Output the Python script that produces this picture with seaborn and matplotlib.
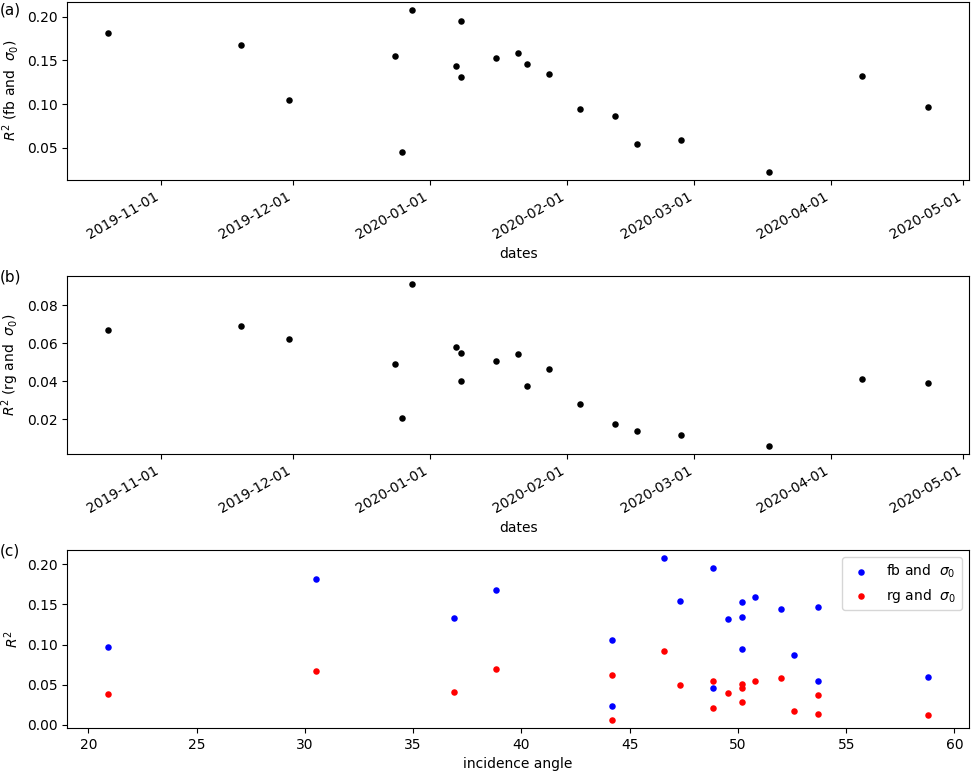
import numpy as np
import pandas as pd
import matplotlib
matplotlib.use('Agg')
import matplotlib.pyplot as plt
import matplotlib.dates as mdates
import seaborn as sns

# acquisition dates, incidence angle and R^2 of each regression
dates = pd.to_datetime([
    '2019-10-20', '2019-11-19', '2019-11-30', '2019-12-24', '2019-12-25 16:00',
    '2019-12-28', '2020-01-07', '2020-01-08', '2020-01-08', '2020-01-16',
    '2020-01-21', '2020-01-23', '2020-01-28', '2020-02-04', '2020-02-12',
    '2020-02-17', '2020-02-27', '2020-03-18', '2020-04-08', '2020-04-23'],
    format='ISO8601')
angle = [30.53, 38.82, 44.19, 47.33, 48.83,
         46.58, 51.99, 48.83, 49.53, 50.19,
         50.79, 53.70, 50.19, 50.19, 52.60,
         53.70, 58.78, 44.19, 36.90, 20.92]
r2_fb = [0.1817, 0.168, 0.1053, 0.1547, 0.0459,
         0.208, 0.144, 0.1954, 0.1315, 0.153,
         0.159, 0.1463, 0.1341, 0.095, 0.087,
         0.054, 0.0596, 0.023, 0.1327, 0.0973]
r2_rg = [0.0669, 0.0691, 0.0622, 0.0489, 0.0204,
         0.0913, 0.0579, 0.0548, 0.0400, 0.0505,
         0.0541, 0.0373, 0.0463, 0.0278, 0.0177,
         0.0135, 0.0119, 0.0060, 0.0410, 0.0389]

df = pd.DataFrame({'dates': dates, 'angle': angle, 'fb': r2_fb, 'rg': r2_rg})

fig, axes = plt.subplots(3, 1, figsize=(9.71, 7.71), dpi=100)
fig.subplots_adjust(left=0.0693, right=0.998, top=0.998, bottom=0.0558, hspace=0.539)

# (a) and (b): R^2 against date
for ax, col, lab in [(axes[0], 'fb', r'$R^2$ (fb and  $\sigma_0$)'),
                     (axes[1], 'rg', r'$R^2$ (rg and  $\sigma_0$)')]:
    sns.scatterplot(data=df, x='dates', y=col, ax=ax, color='k', s=22, linewidth=0)
    ax.set_ylabel(lab)
    ax.set_xlabel('dates')
    ax.xaxis.set_major_locator(mdates.MonthLocator())
    ax.xaxis.set_major_formatter(mdates.DateFormatter('%Y-%m-%d'))
    plt.setp(ax.get_xticklabels(), rotation=30, ha='right')

# (c): R^2 against incidence angle
ax = axes[2]
sns.scatterplot(data=df, x='angle', y='fb', ax=ax, color='blue', s=22,
                linewidth=0, label=r'fb and  $\sigma_0$')
sns.scatterplot(data=df, x='angle', y='rg', ax=ax, color='red', s=22,
                linewidth=0, label=r'rg and  $\sigma_0$')
ax.set_xlabel('incidence angle')
ax.set_ylabel(r'$R^2$')
ax.legend(loc='upper right')

for ax, tag in zip(axes, ['(a)', '(b)', '(c)']):
    pos = ax.get_position()
    fig.text(0.0, min(pos.y1 + 6 / 771, 0.997), tag, fontsize=11, va='top', ha='left')

plt.savefig('out.png', dpi=100)
